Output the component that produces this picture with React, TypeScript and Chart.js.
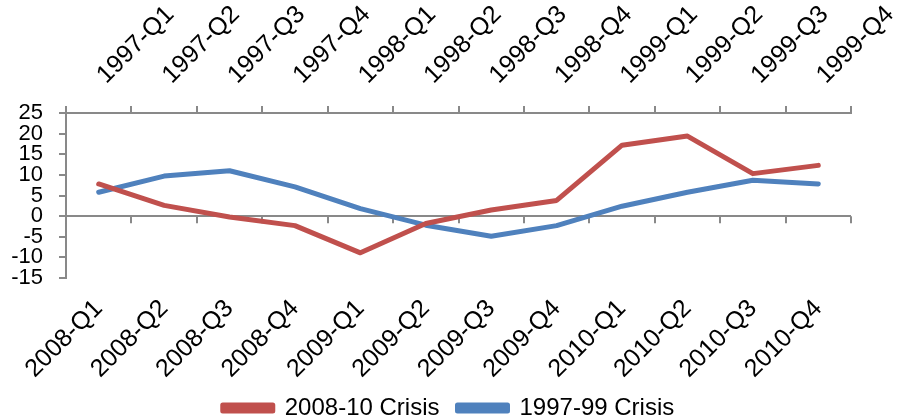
import React, { useEffect, useRef } from "react";
import { Chart, registerables } from "chart.js";

Chart.register(...registerables);

const bottomLabels = [
  "2008-Q1", "2008-Q2", "2008-Q3", "2008-Q4",
  "2009-Q1", "2009-Q2", "2009-Q3", "2009-Q4",
  "2010-Q1", "2010-Q2", "2010-Q3", "2010-Q4",
];
const topLabels = [
  "1997-Q1", "1997-Q2", "1997-Q3", "1997-Q4",
  "1998-Q1", "1998-Q2", "1998-Q3", "1998-Q4",
  "1999-Q1", "1999-Q2", "1999-Q3", "1999-Q4",
];
const crisis2008 = [7.8, 2.6, -0.2, -2.3, -8.9, -1.8, 1.5, 3.8, 17.2, 19.4, 10.3, 12.3];
const crisis1997 = [5.8, 9.7, 11.0, 7.1, 1.8, -2.2, -4.9, -2.3, 2.4, 5.8, 8.7, 7.8];
const seriesNames = ["2008-10 Crisis", "1997-99 Crisis"];
const yMin = -15;
const yMax = 25;
const yStep = 5;

const RED = "#C0504D";
const BLUE = "#4F81BD";
const AXIS = "#898989";
const FONT = "'Liberation Sans', Arial, sans-serif";
const Y_TICK_SIZE = 22;
const X_TICK_SIZE = 25;

const zeroTicks = {
  id: "zeroTicks",
  beforeDatasetsDraw(chart: any) {
    const xs = chart.scales.x;
    const ys = chart.scales.y;
    const y0 = ys.getPixelForValue(0);
    const n = xs.ticks.length;
    const ctx = chart.ctx;
    ctx.save();
    ctx.strokeStyle = AXIS;
    ctx.lineWidth = 2;
    ctx.beginPath();
    for (let i = 0; i <= n; i++) {
      const px = Math.round(xs.getPixelForValue(i - 0.5));
      ctx.moveTo(px, y0);
      ctx.lineTo(px, y0 + 7);
    }
    ctx.stroke();
    ctx.restore();
  },
};

export default function App() {
  const ref = useRef<HTMLCanvasElement | null>(null);
  useEffect(() => {
    document.body.style.margin = "0";
    if (!ref.current) return;
    const lineStyle = {
      borderWidth: 5,
      pointRadius: 0,
      tension: 0,
      borderCapStyle: "round" as const,
      borderJoinStyle: "round" as const,
      xAxisID: "x",
      yAxisID: "y",
    };
    const chart = new Chart(ref.current, {
      type: "line",
      data: {
        labels: bottomLabels,
        datasets: [
          { label: seriesNames[0], data: crisis2008, borderColor: RED, backgroundColor: RED, ...lineStyle },
          { label: seriesNames[1], data: crisis1997, borderColor: BLUE, backgroundColor: BLUE, ...lineStyle },
        ],
      },
      options: {
        responsive: false,
        animation: false,
        layout: { padding: { left: 0, right: 0, top: 0, bottom: -10 } },
        plugins: {
          legend: {
            position: "bottom",
            labels: {
              boxWidth: 50,
              boxHeight: 6,
              padding: 18,
              color: "#000",
              font: { family: FONT, size: 24 },
            },
          },
          tooltip: { enabled: false },
        },
        scales: {
          x: {
            type: "category",
            position: "bottom",
            offset: true,
            grid: { display: false },
            border: { display: false },
            ticks: {
              minRotation: 45,
              maxRotation: 45,
              autoSkip: false,
              padding: 8,
              color: "#000",
              font: { family: FONT, size: X_TICK_SIZE },
            },
            afterFit(scale: any) {
              scale.height = 100;
              scale.paddingLeft = 0;
              scale.paddingRight = 0;
            },
          },
          x2: {
            type: "category",
            position: "top",
            labels: topLabels,
            offset: true,
            grid: {
              offset: true,
              drawOnChartArea: false,
              drawTicks: true,
              tickLength: 7,
              color: AXIS,
              lineWidth: 2,
            },
            border: { display: true, color: AXIS, width: 2 },
            ticks: {
              minRotation: 45,
              maxRotation: 45,
              autoSkip: false,
              padding: 16,
              labelOffset: 24,
              color: "#000",
              font: { family: FONT, size: X_TICK_SIZE },
            },
            afterFit(scale: any) {
              scale.height = 113;
              scale.paddingLeft = 0;
              scale.paddingRight = 0;
            },
          },
          y: {
            type: "linear",
            position: "left",
            min: yMin,
            max: yMax,
            grid: {
              color: (c: any) => (c.tick && c.tick.value === 0 ? AXIS : "rgba(0,0,0,0)"),
              tickColor: AXIS,
              lineWidth: 2,
              tickLength: 7,
            },
            border: { display: true, color: AXIS, width: 2 },
            ticks: {
              stepSize: yStep,
              autoSkip: false,
              padding: 16,
              color: "#000",
              font: { family: FONT, size: Y_TICK_SIZE },
              callback: (v: any) => String(v),
            },
            afterFit(scale: any) {
              scale.width = 66;
              scale.paddingTop = 0;
              scale.paddingBottom = 0;
            },
          },
          yRight: {
            type: "linear",
            position: "right",
            display: true,
            grid: { display: false },
            border: { display: false },
            ticks: { display: false },
            afterFit(scale: any) {
              scale.width = 46;
              scale.paddingTop = 0;
              scale.paddingBottom = 0;
            },
          },
        },
      },
      plugins: [zeroTicks],
    });
    return () => chart.destroy();
  }, []);
  return (
    <div style={{ width: 897, height: 420 }}>
      <canvas ref={ref} width={897} height={420} />
    </div>
  );
}
